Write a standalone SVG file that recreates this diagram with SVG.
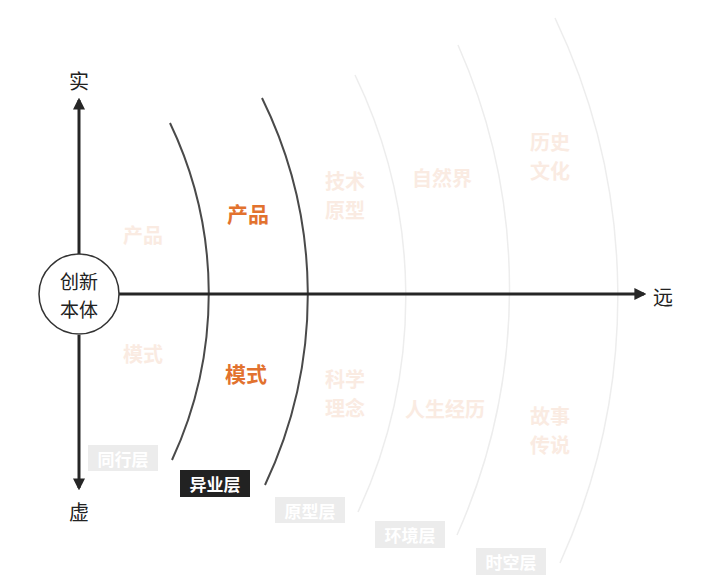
<svg xmlns="http://www.w3.org/2000/svg" width="708" height="588" viewBox="0 0 708 588">
<style>
text{font-family:"Noto Sans CJK SC","Noto Sans",sans-serif;text-anchor:middle;dominant-baseline:central}
.ax{stroke:#262626;stroke-width:3;fill:none}
.arcD{stroke:#4a4a4a;stroke-width:2;fill:none}
.arcL{stroke:#ededed;stroke-width:1.5;fill:none}
.lbl{font-size:20px;fill:#222}
.core{font-size:19px;fill:#222}
.or{font-size:21px;fill:#e2722e;font-weight:bold}
.fa{font-size:20px;fill:#faebe2;font-weight:bold}
.tagL{fill:#ececec}
.tagD{fill:#222}
.tt{font-size:17px;fill:#fff;font-weight:bold}
</style>
<defs>
<marker id="ah" viewBox="0 0 10 10" refX="8" refY="5" markerWidth="4" markerHeight="4" orient="auto"><path d="M0,0 L10,5 L0,10 z" fill="#262626"/></marker>
</defs>
<rect width="708" height="588" fill="#fff"/>
<g id="arcs">
<path class="arcD" d="M170 123 A395 395 0 0 1 172 460"/>
<path class="arcD" d="M262 98 A445 445 0 0 1 265 485"/>
<path class="arcL" d="M355 75 A509 509 0 0 1 358 512"/>
<path class="arcL" d="M458 45 A603 603 0 0 1 457 535"/>
<path class="arcL" d="M555 18 A646 646 0 0 1 560 563"/>
</g>
<g id="connectors">
<path class="ax" d="M79 254 V100" marker-end="url(#ah)"/>
<path class="ax" d="M79 335 V488" marker-end="url(#ah)"/>
<path class="ax" d="M119 294 H644" marker-end="url(#ah)"/>
</g>
<g id="core">
<circle cx="79" cy="294" r="40" fill="#fff" stroke="#333" stroke-width="1.5"/>
<text class="core" x="79" y="280">创新</text>
<text class="core" x="79" y="308">本体</text>
</g>
<g id="axis-labels">
<text class="lbl" x="79" y="80">实</text>
<text class="lbl" x="79" y="511">虚</text>
<text class="lbl" x="663" y="296">远</text>
</g>
<g id="layer1">
<text class="fa" x="143" y="234">产品</text>
<text class="fa" x="143" y="353">模式</text>
<rect class="tagL" x="88" y="445" width="70" height="26"/>
<text class="tt" x="123" y="458">同行层</text>
</g>
<g id="layer2">
<text class="or" x="248" y="213">产品</text>
<text class="or" x="246" y="373">模式</text>
<rect class="tagD" x="180" y="470" width="70" height="27"/>
<text class="tt" x="215" y="483.5">异业层</text>
</g>
<g id="layer3">
<text class="fa" x="345" y="180">技术<tspan x="345" dy="29">原型</tspan></text>
<text class="fa" x="345" y="378">科学<tspan x="345" dy="29">理念</tspan></text>
<rect class="tagL" x="275" y="497" width="70" height="26"/>
<text class="tt" x="310" y="510">原型层</text>
</g>
<g id="layer4">
<text class="fa" x="442" y="177">自然界</text>
<text class="fa" x="445" y="408">人生经历</text>
<rect class="tagL" x="375" y="521" width="70" height="27"/>
<text class="tt" x="410" y="534.5">环境层</text>
</g>
<g id="layer5">
<text class="fa" x="550" y="141">历史<tspan x="550" dy="29">文化</tspan></text>
<text class="fa" x="550" y="415">故事<tspan x="550" dy="29">传说</tspan></text>
<rect class="tagL" x="476" y="548" width="70" height="27"/>
<text class="tt" x="511" y="561.5">时空层</text>
</g>
</svg>
